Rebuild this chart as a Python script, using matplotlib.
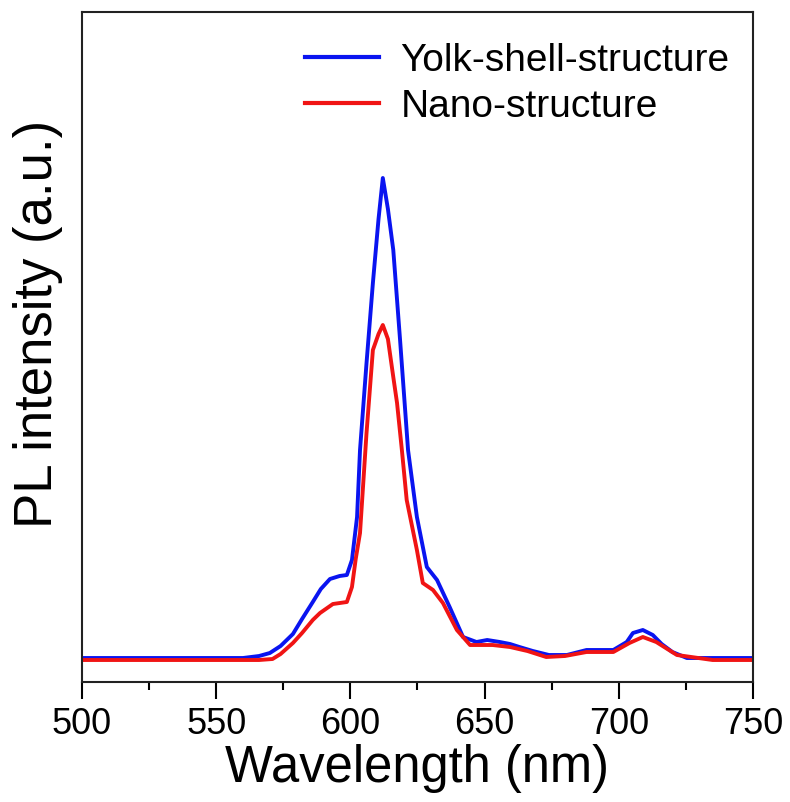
import matplotlib.pyplot as plt
from matplotlib.ticker import MultipleLocator

# Spectres (intensite en unites arbitraires)
wl_yolk = [500, 520, 540, 560, 566, 570, 574, 578.6, 582, 586, 589, 592.4, 596,
           598.7, 600.6, 602.5, 603.6, 606, 608.4, 610.5, 612.1, 614, 616, 618.5,
           621.5, 624.8, 628.5, 632.3, 637, 642, 647, 651, 655.7, 659.5, 663, 668,
           674, 680.7, 688, 694, 698, 703, 705.3, 709, 712.7, 716, 720, 725.4, 735, 750]
pl_yolk = [1, 1, 1, 1, 3, 6, 13, 25, 40, 57, 70, 80, 83,
           84, 99, 142, 209, 295, 376, 440, 481, 450, 409, 320,
           209, 142, 92, 79, 52, 22, 17, 19, 17, 15, 12, 8,
           4, 4, 9, 9, 9, 17, 26, 29, 24, 15, 7, 1, 1, 1]

wl_nano = [500, 520, 540, 560, 566, 571, 574, 578.6, 582, 586, 588.7, 593.5, 598.7,
           600.6, 602, 603.6, 606, 608.4, 610.5, 612.1, 614, 616, 617.4, 619.2, 621,
           624.8, 627, 630.8, 634.5, 639.7, 644.6, 648, 653, 659.5, 666, 673, 680,
           688, 698, 704, 709, 714, 721.7, 735, 750]
pl_nano = [-1, -1, -1, -1, -1, 0, 5, 16, 26, 39, 46, 55, 57,
           72, 100, 126, 225, 309, 325, 334, 320, 282, 256, 209, 159,
           109, 76, 69, 56, 29, 14, 14, 14, 12, 8, 2, 3,
           7, 7, 16, 22, 17, 4, -1, -1]

plt.rcParams['font.family'] = ['Liberation Sans', 'DejaVu Sans']

fig = plt.figure(figsize=(7.9, 8.02), dpi=100)
ax = fig.add_axes([0.1038, 0.150, 0.8492, 0.8354])

ax.plot(wl_yolk, pl_yolk, color='#0a14f0', lw=2.8, label="Yolk-shell-structure")
ax.plot(wl_nano, pl_nano, color='#f01414', lw=2.8, label="Nano-structure")

ax.set_xlim(500, 750)
ax.set_ylim(-22.7, 647.3)
ax.xaxis.set_major_locator(MultipleLocator(50))
ax.xaxis.set_minor_locator(MultipleLocator(25))
ax.tick_params(axis='x', which='major', length=12, width=1.5, labelsize=26, pad=6)
ax.tick_params(axis='x', which='minor', length=6, width=1.5)
ax.set_yticks([])
for s in ax.spines.values():
    s.set_linewidth(1.5)
    s.set_color('#222222')

ax.set_xlabel("Wavelength (nm)", fontsize=36.5, labelpad=2)
ax.set_ylabel("PL intensity (a.u.)", fontsize=38, labelpad=14, y=0.534)

leg = ax.legend(loc='upper right', bbox_to_anchor=(1.0, 0.988), frameon=False, fontsize=28,
                handlelength=1.9, handletextpad=0.55, labelspacing=0.25, borderaxespad=0.2)
for h in leg.get_lines():
    h.set_linewidth(3.0)

fig.savefig("out.png", dpi=100)
